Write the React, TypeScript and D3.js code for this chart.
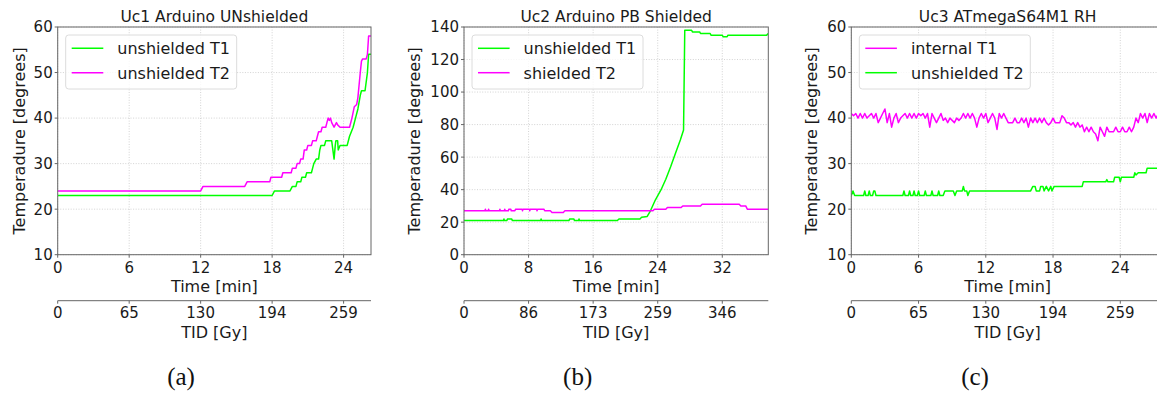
import React from 'react';
import * as d3 from 'd3';

const GREEN = '#00ff00';
const MAGENTA = '#ff00ff';
const FONT = '"DejaVu Sans", sans-serif';

// ---------- Panel (a): Uc1 Arduino UNshielded ----------
const aTimeTicks = [0, 6, 12, 18, 24];
const aTidTicks = ['0', '65', '130', '194', '259'];
const aYTicks = [10, 20, 30, 40, 50, 60];
const aT1: [number, number][] = [
  [0, 23], [18.0, 23], [18.2, 24], [19.5, 24], [19.7, 25], [20.0, 25], [20.1, 26], [20.4, 26],
  [20.5, 27], [20.8, 27], [20.9, 28], [21.3, 28], [21.4, 29], [21.5, 30], [21.7, 31], [21.9, 31],
  [22.0, 33], [22.1, 34], [22.4, 34], [22.5, 35], [23.0, 35], [23.1, 33], [23.2, 31], [23.3, 34],
  [23.35, 35], [23.5, 35], [23.55, 33], [23.7, 34], [24.3, 34], [24.5, 36], [24.8, 38], [25.0, 40],
  [25.2, 42], [25.4, 45], [25.5, 46], [25.8, 46], [26.0, 50], [26.1, 54], [26.3, 54],
];
const aT2: [number, number][] = [
  [0, 24], [12.0, 24], [12.2, 25], [15.7, 25], [15.9, 26], [17.8, 26], [17.9, 27], [18.8, 27],
  [18.9, 28], [19.6, 28], [19.7, 29], [20.0, 29], [20.1, 30], [20.3, 30], [20.4, 31], [20.6, 31],
  [20.7, 33], [20.9, 33], [21.0, 34], [21.3, 34], [21.4, 35], [21.7, 35], [21.8, 36], [21.9, 37],
  [22.1, 37], [22.2, 38], [22.5, 38], [22.6, 39], [22.7, 40], [22.8, 39.5], [22.9, 40], [23.0, 39],
  [23.2, 38], [23.3, 38.5], [23.4, 39], [23.5, 38.5], [23.7, 38], [24.5, 38], [24.7, 40], [24.9, 42.5],
  [25.1, 43], [25.2, 44.5], [25.4, 50], [25.5, 52.5], [25.6, 53], [25.9, 53], [26.0, 54], [26.1, 58],
  [26.3, 58],
];

// ---------- Panel (b): Uc2 Arduino PB Shielded ----------
const bTimeTicks = [0, 8, 16, 24, 32];
const bTidTicks = ['0', '86', '173', '259', '346'];
const bYTicks = [0, 20, 40, 60, 80, 100, 120, 140];
const bT1: [number, number][] = [
  [0, 21], [4.9, 21], [4.95, 22], [5.0, 21], [5.3, 21], [5.4, 22], [5.9, 22], [6.0, 21],
  [9.5, 21], [9.55, 22], [9.6, 21], [13.0, 21], [13.1, 22], [13.6, 22], [13.7, 21], [14.2, 21],
  [14.25, 22], [14.3, 21], [19.0, 21], [19.2, 22], [21.8, 22], [22.0, 23], [22.7, 23.5], [23.1, 27],
  [23.7, 33.6], [24.4, 39.8], [25.0, 46.4], [25.6, 54.1], [26.2, 62.4], [26.8, 70.5], [27.2, 76.7],
  [27.35, 138], [28.2, 138], [28.3, 137], [29.2, 137], [29.3, 136], [30.5, 136], [30.6, 135],
  [32.0, 135], [32.1, 134], [32.6, 134], [32.7, 135], [37.5, 135], [37.7, 136],
];
const bT2: [number, number][] = [
  [0, 27], [2.6, 27], [2.65, 28], [2.7, 27], [3.0, 27], [3.05, 28], [3.1, 27], [4.4, 27],
  [4.45, 28], [4.5, 27], [5.0, 27], [5.05, 28], [5.1, 27], [5.5, 27], [5.55, 28], [5.8, 28],
  [5.85, 27], [6.3, 27], [6.4, 28], [7.2, 28], [7.25, 27], [7.3, 28], [8.1, 28], [8.15, 27],
  [8.2, 28], [9.0, 28], [9.05, 27], [9.1, 28], [9.9, 28], [10.0, 27], [10.7, 27], [10.9, 26],
  [12.3, 26], [12.5, 27], [23.4, 27], [23.6, 28], [25.0, 28], [25.2, 29], [26.9, 29], [27.1, 30],
  [29.3, 30], [29.5, 31], [34.1, 31], [34.3, 30], [34.9, 30], [35.1, 28], [37.7, 28],
];

// ---------- Panel (c): Uc3 ATmegaS64M1 RH ----------
const cTimeTicks = [0, 6, 12, 18, 24];
const cTidTicks = ['0', '65', '130', '194', '259'];
const cYTicks = [10, 20, 30, 40, 50, 60];
const cSampleMin = 0.2;
const cInternalT1 = [
  41, 40.5, 41, 40, 41, 40, 41, 40, 40.5, 41, 40, 41,
  39,
  40, 41, 42, 39, 41, 38, 40,
  41, 39, 40, 40.5, 41, 40, 41, 40, 41, 40, 41, 40.5, 41, 40, 41,
  38, 41, 40, 39, 40, 41,
  39.5, 40, 39, 40, 39.5, 39, 40, 39.5, 40,
  41, 40, 41, 40, 41, 40,
  38, 40, 41, 40, 41, 39, 40, 41, 40, 37.5, 41, 40, 41, 40,
  39, 39, 39, 40, 39, 39, 40, 39,
  40, 38, 40, 39, 40, 39, 40,
  39, 40, 39, 38.5, 39, 40,
  39, 39, 39, 40.5, 40, 39, 39, 38.5, 39,
  38, 39, 38, 38.5, 37, 38,
  37, 38, 37, 36.5,
  35, 38, 37, 36, 38, 37,
  37, 37, 38, 37, 37, 38, 37,
  37, 38, 37, 38,
  40, 39, 41, 40, 41, 39, 41, 40, 41, 40, 41, 40, 41,
];
const cT2: [number, number][] = [
  [0, 23], [0.15, 24], [0.3, 23], [1.1, 23], [1.2, 24], [1.3, 23], [1.5, 23], [1.6, 24], [1.7, 23],
  [1.9, 23], [2.0, 24], [2.1, 24], [2.2, 23], [4.6, 23], [4.7, 24], [4.8, 23], [5.1, 23], [5.2, 24],
  [5.3, 23], [5.5, 23], [5.6, 24], [5.7, 23], [5.9, 23], [6.0, 24], [6.1, 23], [6.5, 23], [6.6, 24],
  [6.7, 23], [7.1, 23], [7.2, 24], [7.3, 23], [7.7, 23], [7.8, 24], [7.9, 23], [8.2, 23], [8.35, 24],
  [9.1, 24], [9.25, 23], [9.4, 24], [9.9, 24], [10.0, 25], [10.1, 24], [10.3, 24], [10.4, 23],
  [10.55, 24], [16.0, 24], [16.2, 25], [16.4, 25], [16.5, 24], [16.8, 24], [16.9, 25], [17.1, 25],
  [17.2, 24], [17.4, 25], [17.6, 24], [17.8, 25], [17.9, 24], [18.1, 25], [20.6, 25], [20.7, 26],
  [22.7, 26], [22.8, 26.5], [22.9, 26], [23.4, 26], [23.5, 27], [23.9, 27], [24.0, 26], [24.1, 27],
  [25.2, 27], [25.3, 28], [25.4, 27.5], [25.6, 28], [26.3, 28], [26.4, 29], [27.8, 29],
];

type Series = { label: string; color: string; points: [number, number][] };

type PanelProps = {
  title: string;
  caption: string;
  captionX: number;
  left: number;
  right: number;
  xMax: number;
  yDomain: [number, number];
  timeTicks: number[];
  tidTicks: string[];
  yTicks: number[];
  yLabelX: number;
  series: Series[];
  legend: Series[];
  clipId: string;
};

const TOP = 27;
const BOTTOM = 254.7;

function Panel(p: PanelProps) {
  const x = d3.scaleLinear().domain([0, p.xMax]).range([p.left, p.right]);
  const y = d3.scaleLinear().domain(p.yDomain).range([BOTTOM, TOP]);
  const line = d3
    .line<[number, number]>()
    .x((d) => x(d[0]))
    .y((d) => y(d[1]));
  const cx = (p.left + p.right) / 2;
  const axisColor = '#666';
  const textColor = '#1a1a1a';
  const lx = p.left + 8;
  return (
    <g>
      <clipPath id={p.clipId}>
        <rect x={p.left} y={TOP - 3} width={p.right - p.left} height={BOTTOM - TOP + 6} />
      </clipPath>
      {/* grid */}
      {p.timeTicks.map((t) => (
        <line key={'gx' + t} x1={x(t)} x2={x(t)} y1={TOP} y2={BOTTOM} stroke="#c8c8c8" strokeWidth={0.8} strokeDasharray="1,1.6" />
      ))}
      {p.yTicks.map((v) => (
        <line key={'gy' + v} x1={p.left} x2={p.right} y1={y(v)} y2={y(v)} stroke="#c8c8c8" strokeWidth={0.8} strokeDasharray="1,1.6" />
      ))}
      {/* series */}
      <g clipPath={`url(#${p.clipId})`}>
        {p.series.map((s) => (
          <path key={s.label} d={line(s.points) || ''} fill="none" stroke={s.color} strokeWidth={1.5} strokeLinejoin="round" />
        ))}
      </g>
      {/* spines */}
      <rect x={p.left} y={TOP} width={p.right - p.left} height={BOTTOM - TOP} fill="none" stroke={axisColor} strokeWidth={1} />
      {/* y ticks */}
      {p.yTicks.map((v) => (
        <g key={'yt' + v}>
          <line x1={p.left - 3} x2={p.left} y1={y(v)} y2={y(v)} stroke={axisColor} />
          <text x={p.left - 5} y={y(v) + 5.4} textAnchor="end" fontSize={15} fill={textColor} fontFamily={FONT}>
            {v}
          </text>
        </g>
      ))}
      {/* x ticks */}
      {p.timeTicks.map((t) => (
        <g key={'xt' + t}>
          <line x1={x(t)} x2={x(t)} y1={BOTTOM} y2={BOTTOM + 3} stroke={axisColor} />
          <text x={x(t)} y={273} textAnchor="middle" fontSize={15} fill={textColor} fontFamily={FONT}>
            {t}
          </text>
        </g>
      ))}
      <text x={cx} y={291.7} textAnchor="middle" fontSize={16} fill={textColor} fontFamily={FONT}>
        Time [min]
      </text>
      {/* secondary TID axis */}
      <line x1={p.left} x2={p.right} y1={300.7} y2={300.7} stroke={axisColor} strokeWidth={1} />
      {p.timeTicks.map((t, i) => (
        <g key={'tid' + t}>
          <line x1={x(t)} x2={x(t)} y1={300.7} y2={303.7} stroke={axisColor} />
          <text x={x(t)} y={317.7} textAnchor="middle" fontSize={15} fill={textColor} fontFamily={FONT}>
            {p.tidTicks[i]}
          </text>
        </g>
      ))}
      <text x={cx} y={337.7} textAnchor="middle" fontSize={16} fill={textColor} fontFamily={FONT}>
        TID [Gy]
      </text>
      {/* y label */}
      <text
        transform={`translate(${p.yLabelX},${(TOP + BOTTOM) / 2}) rotate(-90)`}
        textAnchor="middle"
        fontSize={16}
        fill={textColor}
        fontFamily={FONT}
      >
        Temperadure [degrees]
      </text>
      {/* title */}
      <text x={cx} y={21.5} textAnchor="middle" fontSize={15.5} fill={textColor} fontFamily={FONT}>
        {p.title}
      </text>
      {/* legend */}
      <rect x={lx} y={35} width={171} height={54} rx={3} fill="white" fillOpacity={0.8} stroke="#dcdcdc" strokeWidth={1} />
      {p.legend.map((s, i) => (
        <g key={'lg' + s.label}>
          <line x1={lx + 6} x2={lx + 37.6} y1={48.3 + i * 24.4} y2={48.3 + i * 24.4} stroke={s.color} strokeWidth={1.5} />
          <text x={lx + 51.6} y={48.3 + i * 24.4 + 5.8} fontSize={16} fill={textColor} fontFamily={FONT}>
            {s.label}
          </text>
        </g>
      ))}
      {/* caption */}
      <text x={p.captionX} y={385} textAnchor="middle" fontSize={25} fill="#111" fontFamily='"Liberation Serif", serif'>
        {p.caption}
      </text>
    </g>
  );
}

export default function App() {
  const aSeries: Series[] = [
    { label: 'unshielded T1', color: GREEN, points: aT1 },
    { label: 'unshielded T2', color: MAGENTA, points: aT2 },
  ];
  const bSeries: Series[] = [
    { label: 'unshielded T1', color: GREEN, points: bT1 },
    { label: 'shielded T2', color: MAGENTA, points: bT2 },
  ];
  const cInternal: [number, number][] = cInternalT1.map((v, i) => [i * cSampleMin, v]);
  const cSeries: Series[] = [
    { label: 'internal T1', color: MAGENTA, points: cInternal },
    { label: 'unshielded T2', color: GREEN, points: cT2 },
  ];
  return (
    <svg
      width={1157}
      height={395}
      style={{ position: 'absolute', left: 0, top: 0, background: 'white' }}
    >
      <rect x={0} y={0} width={1157} height={395} fill="white" />
      <Panel
        title="Uc1 Arduino UNshielded"
        caption="(a)"
        captionX={181}
        left={57.7}
        right={371}
        xMax={26.3}
        yDomain={[10, 60]}
        timeTicks={aTimeTicks}
        tidTicks={aTidTicks}
        yTicks={aYTicks}
        yLabelX={25}
        series={aSeries}
        legend={aSeries}
        clipId="clipA"
      />
      <Panel
        title="Uc2 Arduino PB Shielded"
        caption="(b)"
        captionX={577.7}
        left={464}
        right={768.3}
        xMax={37.7}
        yDomain={[0, 140]}
        timeTicks={bTimeTicks}
        tidTicks={bTidTicks}
        yTicks={bYTicks}
        yLabelX={420}
        series={bSeries}
        legend={bSeries}
        clipId="clipB"
      />
      <Panel
        title="Uc3 ATmegaS64M1 RH"
        caption="(c)"
        captionX={975}
        left={851.3}
        right={1164}
        xMax={27.9}
        yDomain={[10, 60]}
        timeTicks={cTimeTicks}
        tidTicks={cTidTicks}
        yTicks={cYTicks}
        yLabelX={817}
        series={cSeries}
        legend={cSeries}
        clipId="clipC"
      />
    </svg>
  );
}
